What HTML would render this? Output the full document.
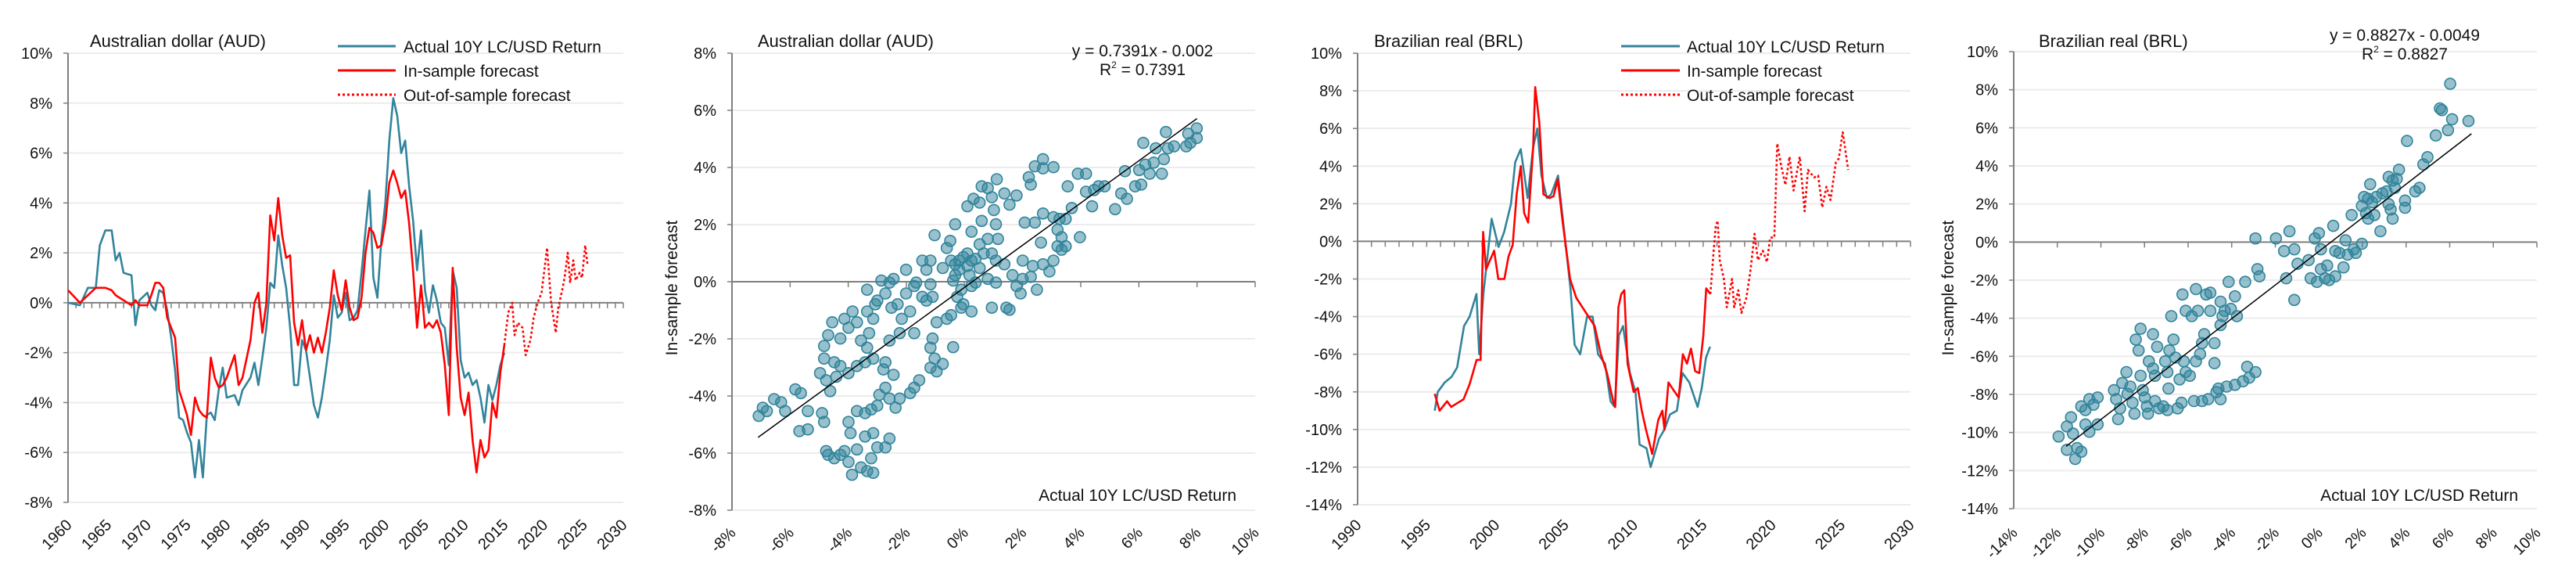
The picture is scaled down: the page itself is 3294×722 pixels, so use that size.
<!DOCTYPE html>
<html><head><meta charset="utf-8">
<style>
html,body{margin:0;padding:0;background:#fff;}
svg{display:block;font-family:"Liberation Sans Narrow","Liberation Sans",sans-serif;}
</style></head>
<body>
<svg id="chart" width="3294" height="722" viewBox="0 0 3294 722" xmlns="http://www.w3.org/2000/svg"></svg>
<script>
// ===== Panel 1: AUD time series =====
const audYears = [1960,1961.5,1962.5,1963.5,1964,1964.7,1965.5,1966,1966.5,1967,1968,1968.5,1969,1970,1970.5,1971,1971.5,1972,1972.5,1973,1973.5,1974,1974.5,1975,1975.5,1976,1976.5,1977,1977.5,1978,1978.5,1979,1979.5,1980,1981,1981.5,1982,1983,1983.5,1984,1984.5,1985,1985.5,1986,1986.5,1987,1987.5,1988,1988.5,1989,1989.5,1990,1990.5,1991,1991.5,1992,1992.5,1993,1993.5,1994,1994.5,1995,1995.5,1996,1996.5,1997,1997.5,1998,1998.5,1999,1999.5,2000,2000.5,2001,2001.5,2002,2002.5,2003,2003.5,2004,2004.5,2005,2005.5,2006,2006.5,2007,2007.5,2008,2008.5,2009,2009.5,2010,2010.5,2011,2011.5,2012,2012.5,2013,2013.5,2014,2014.5,2015];
const audActual = [0.0,-0.1,0.6,0.6,2.3,2.9,2.9,1.7,2.0,1.2,1.1,-0.9,0.1,0.4,-0.1,-0.3,0.5,0.4,-0.3,-1.4,-2.7,-4.6,-4.7,-5.2,-5.6,-7.0,-5.5,-7.0,-4.5,-4.4,-4.7,-3.5,-2.6,-3.8,-3.7,-4.1,-3.5,-3.0,-2.4,-3.3,-2.2,-1.0,0.8,0.6,2.7,1.5,0.6,-1.0,-3.3,-3.3,-1.5,-1.9,-3.0,-4.1,-4.6,-3.8,-2.7,-1.5,0.3,-0.6,-0.4,0.4,-0.7,-0.6,-0.3,1.2,2.9,4.5,1.0,0.2,2.5,4.0,6.5,8.2,7.5,6.0,6.5,4.7,3.3,1.3,2.9,0.5,-0.4,0.7,0.1,-0.8,-1.0,-2.5,1.3,0.6,-2.3,-3.0,-2.8,-3.3,-3.1,-3.8,-4.8,-3.3,-3.9,-3.3,-2.5,-2.0];
const audInSample = [0.5,0.0,0.3,0.6,0.6,0.6,0.5,0.3,0.2,0.1,-0.1,0.1,-0.1,-0.1,0.3,0.8,0.8,0.6,-0.6,-1.0,-1.4,-3.5,-4.0,-4.5,-5.3,-3.8,-4.3,-4.5,-4.6,-2.2,-3.0,-3.4,-3.3,-3.0,-2.1,-3.3,-3.0,-1.5,0.0,0.4,-1.2,0.0,3.5,2.5,4.2,2.7,1.8,1.9,-0.8,-1.7,-0.7,-1.9,-1.3,-2.0,-1.4,-2.0,-1.2,-0.2,1.3,0.3,-0.3,0.9,-0.2,-0.7,-0.6,0.2,2.0,3.0,2.8,2.2,2.3,3.2,4.8,5.3,4.8,4.2,4.5,3.2,1.3,-1.0,0.7,-1.0,-0.8,-1.0,-0.7,-1.2,-2.5,-4.5,1.4,-1.8,-3.8,-4.5,-3.6,-5.5,-6.8,-5.5,-6.2,-5.9,-4.0,-4.6,-2.8,-1.7];
const audOosYears = [2015,2015.5,2016,2016.3,2016.7,2017.3,2017.7,2018.3,2018.7,2019.2,2019.7,2020.4,2020.9,2021.5,2021.8,2022.3,2022.6,2023,2023.3,2023.7,2024,2024.5,2024.8,2025.2,2025.5];
const audOos = [-1.7,-0.4,0.0,-1.3,-0.8,-1.0,-2.1,-1.5,-0.6,0.0,0.4,2.2,0.0,-1.2,-0.2,0.5,1.0,2.0,0.8,1.7,0.9,1.2,1.0,2.3,1.5];
const audYTicks = [10,8,6,4,2,0,-2,-4,-6,-8];
const audXTicks = [1960,1965,1970,1975,1980,1985,1990,1995,2000,2005,2010,2015,2020,2025,2030];

// ===== Panel 2: AUD scatter =====
const audScatterX = [-7.08,-6.94,-6.8,-6.55,-6.31,-6.17,-5.82,-5.63,-5.68,-5.39,-5.39,-4.97,-4.9,-4.83,-4.76,-4.69,-4.48,-4.27,-4.13,-3.99,-3.87,-3.70,-3.56,-3.35,-3.14,-3.21,-3.0,-2.72,-2.58,-3.92,-3.42,-3.14,-3.99,-3.70,-3.42,-3.21,-3.0,-2.93,-2.72,-2.58,-2.37,-2.23,-1.87,-1.73,-1.56,-2.44,-2.72,-2.79,-3.14,-3.42,-3.70,-3.99,-4.27,-4.48,-4.41,-4.76,-4.62,-4.83,-4.83,-4.69,-4.55,-4.27,-4.13,-3.99,-3.85,-3.70,-3.56,-3.35,-3.28,-3.35,-3.14,-3.07,-3.35,-3.0,-2.86,-2.72,-2.58,-2.44,-2.51,-2.30,-2.16,-2.23,-2.58,-2.01,-2.01,-1.87,-1.73,-1.66,-1.45,-1.31,-1.17,-1.10,-1.31,-1.03,-1.10,-1.17,-1.03,-1.17,-0.96,-0.75,-0.96,-0.61,-0.39,-0.75,-0.61,-0.49,-0.32,-0.46,-0.32,-0.18,-0.11,-0.04,0.10,0.24,0.38,0.52,0.24,0.10,0.31,0.52,0.59,0.80,0.94,1.01,1.11,1.37,1.55,1.79,0.24,0.59,0.52,0.80,1.08,1.15,0.66,0.94,1.08,0.80,1.08,1.37,1.65,0.94,1.44,1.55,1.79,2.0,2.0,1.93,2.28,2.49,2.35,2.7,2.92,3.06,2.07,2.42,2.63,2.70,3.06,3.20,3.34,3.20,3.34,3.48,3.27,3.48,3.69,3.55,3.97,2.21,2.28,2.42,2.70,2.70,3.06,3.90,4.18,4.18,4.39,4.46,4.61,4.82,5.18,5.39,5.59,5.52,5.87,6.08,6.01,6.15,6.22,6.37,6.51,6.58,6.79,6.86,6.93,7.0,7.21,7.63,7.77,7.70,7.99,7.99,-0.32,-0.04,0.10,0.38,-0.18,0.17,-0.39,0.24,-0.25,-0.11,-0.46,-1.45,-1.73,-1.17];
const audScatterY = [-4.70,-4.41,-4.53,-4.11,-4.22,-4.53,-3.77,-3.9,-5.23,-5.17,-4.53,-3.2,-4.6,-4.91,-5.93,-6.06,-6.18,-6.06,-5.93,-6.31,-6.76,-5.87,-6.5,-6.63,-6.69,-6.18,-5.8,-5.8,-5.49,-5.3,-5.42,-5.3,-4.91,-4.53,-4.6,-4.47,-4.34,-3.96,-3.71,-4.09,-4.41,-4.09,-3.9,-3.71,-3.45,-3.26,-2.82,-3.07,-2.69,-2.82,-2.95,-3.2,-2.95,-2.82,-3.33,-3.45,-3.83,-2.69,-2.25,-1.87,-1.42,-1.99,-1.3,-1.61,-1.04,-1.42,-2.06,-1.04,-1.8,-2.31,-1.3,-0.79,-0.28,-0.66,0.04,-0.41,-0.03,0.1,-0.91,-0.79,-1.3,-1.8,-2.06,0.42,-0.41,-1.04,-1.8,-0.03,0.74,0.42,0.74,-0.53,-0.66,1.63,-1.99,-2.31,-2.69,-3.01,-3.14,-2.88,-1.42,-1.30,-2.29,0.48,1.18,1.43,2.01,0.74,0.23,0.74,-0.28,-0.79,0.99,-1.04,-0.03,0.48,0.74,2.64,2.9,2.77,3.34,3.28,2.96,2.51,3.59,3.09,2.7,3.02,1.75,2.13,1.31,1.5,2.01,1.5,0.99,0.99,0.74,0.1,-0.03,0.61,0.23,-0.91,-0.91,-0.98,-0.15,0.10,0.74,-0.41,0.17,-0.28,0.55,0.61,0.36,0.74,2.07,2.07,1.37,2.39,2.26,1.82,1.56,1.24,1.12,1.24,2.2,2.2,2.58,3.34,1.56,3.66,3.40,4.04,4.29,3.97,4.01,3.78,3.78,3.15,2.64,3.21,3.34,3.34,2.54,3.09,2.9,3.87,3.34,3.4,3.91,4.86,4.10,3.78,4.17,4.67,3.78,4.29,5.24,4.67,4.74,4.74,4.86,5.18,5.37,5.03,0.61,0.86,0.55,0.80,0.42,0.23,0.04,-0.15,-0.53,-0.91,-1.17,-0.53,-0.15,-0.09];
const audFitSlope = 0.7391;
const audFitIntercept = -0.2;
const audFitRange = [-7.1, 8.0];
const audSYTicks = [8,6,4,2,0,-2,-4,-6,-8];
const audSXTicks = [-8,-6,-4,-2,0,2,4,6,8,10];

// ===== Panel 3: BRL time series =====
const brlYears = [1995.58,1995.8,1996.3,1996.8,1997.2,1997.7,1998.1,1998.6,1998.8,1999.1,1999.7,2000.2,2000.6,2001.1,2001.4,2001.8,2002.3,2002.7,2003.0,2003.3,2003.7,2004.0,2004.5,2004.8,2005.4,2005.7,2006.1,2006.6,2007.0,2007.4,2007.9,2008.3,2008.6,2008.9,2009.2,2009.7,2010.1,2010.4,2010.9,2011.2,2011.8,2012.2,2012.6,2013.1,2013.5,2014.0,2014.6,2014.9,2015.2,2015.5];
const brlActual = [-9.0,-8.0,-7.5,-7.2,-6.7,-4.5,-4.0,-2.8,-6.0,-2.8,1.2,-0.3,0.5,2.0,4.2,4.9,2.3,5.0,6.0,3.5,2.3,2.5,3.5,1.5,-2.5,-5.5,-6.0,-4.0,-4.0,-6.0,-6.5,-8.5,-8.8,-5.0,-4.5,-7.0,-8.0,-10.8,-11.0,-12.0,-10.5,-10.0,-9.2,-9.0,-7.0,-7.5,-8.8,-7.8,-6.2,-5.6];
const brlInYears = [1995.58,1995.93,1996.47,1996.77,1997.21,1997.66,1998.10,1998.61,1998.90,1999.08,1999.29,1999.58,1999.88,2000.18,2000.62,2000.92,2001.22,2001.51,2001.81,2002.05,2002.34,2002.70,2002.85,2003.15,2003.44,2003.89,2004.18,2004.48,2004.84,2005.37,2005.82,2006.26,2006.71,2007.15,2007.60,2008.04,2008.49,2008.64,2008.87,2009.08,2009.29,2009.53,2009.97,2010.27,2010.56,2010.86,2011.31,2011.75,2012.05,2012.20,2012.49,2012.94,2013.23,2013.53,2013.83,2014.12,2014.42,2014.72,2015.01,2015.22,2015.52];
const brlInSample = [-8.1,-9.0,-8.5,-8.8,-8.6,-8.4,-7.6,-6.3,-6.3,0.5,-1.5,-1.0,-0.5,-2.0,-2.0,-0.8,-0.2,2.5,4.0,1.5,1.0,5.0,8.2,6.3,2.5,2.3,2.4,3.3,1.0,-2.0,-3.0,-3.5,-4.0,-4.5,-6.0,-7.0,-8.5,-8.8,-3.5,-2.8,-2.6,-6.5,-8.0,-7.8,-9.0,-10.0,-11.3,-9.5,-9.0,-10.0,-7.5,-8.0,-8.3,-6.0,-6.5,-5.7,-6.9,-7.0,-5.0,-2.5,-2.8];
const brlOosYears = [2015.52,2015.76,2015.91,2016.05,2016.20,2016.50,2016.71,2017.09,2017.24,2017.54,2017.77,2018.13,2018.43,2018.72,2018.96,2019.32,2019.61,2019.85,2020.15,2020.36,2020.65,2020.95,2021.25,2021.54,2021.99,2022.34,2022.58,2023.03,2023.32,2023.62,2023.92,2024.21,2024.60,2024.81,2025.10,2025.49];
const brlOos = [-2.8,-0.5,0.8,1.1,-1.0,-2.0,-3.5,-2.0,-3.5,-2.6,-3.8,-3.0,-1.5,0.4,-1.0,-0.5,-1.1,0.2,0.2,5.2,4.0,3.0,4.5,2.7,4.5,1.6,3.8,3.4,3.5,1.8,2.9,2.2,4.2,4.4,5.8,3.8];
const brlYTicks = [10,8,6,4,2,0,-2,-4,-6,-8,-10,-12,-14];
const brlXTicks = [1990,1995,2000,2005,2010,2015,2020,2025,2030];

// ===== Panel 4: BRL scatter =====
const brlScatterX = [-11.94,-11.56,-11.56,-11.37,-11.28,-11.18,-11.09,-10.90,-10.90,-10.71,-10.71,-10.53,-10.53,-10.34,-10.15,-10.15,-9.40,-9.30,-9.21,-9.12,-9.02,-8.83,-8.78,-8.65,-8.55,-8.46,-8.40,-8.27,-8.18,-8.18,-8.08,-7.99,-7.89,-7.84,-7.80,-7.61,-7.61,-7.52,-7.42,-7.52,-7.33,-7.14,-7.05,-6.95,-6.95,-6.90,-6.86,-6.77,-6.67,-6.58,-6.48,-6.39,-6.30,-6.26,-6.20,-6.11,-6.11,-5.92,-5.83,-5.73,-5.64,-5.64,-5.55,-5.45,-5.36,-5.36,-5.26,-5.17,-5.08,-4.98,-4.98,-4.79,-4.79,-4.70,-4.61,-4.51,-4.51,-4.42,-4.51,-4.32,-4.23,-4.14,-4.04,-3.85,-3.85,-3.76,-3.48,-3.38,-3.20,-3.29,-2.91,-2.91,-2.82,-2.73,-1.97,-1.60,-1.50,-1.35,-1.13,-1.13,-0.98,-0.47,-0.38,-0.19,-0.09,0,0.09,0.09,0.28,0.38,0.47,0.66,0.75,0.75,0.94,1.13,1.22,1.32,1.50,1.60,1.69,1.97,1.97,2.07,2.16,2.26,2.26,2.35,2.44,2.54,2.63,2.82,2.91,3.10,3.20,3.20,3.29,3.38,3.38,3.48,3.57,3.67,3.95,3.95,4.04,4.42,4.61,4.79,4.98,5.36,5.55,5.64,5.92,6.02,6.11,6.86];
const brlScatterY = [-10.21,-9.68,-10.91,-9.2,-10.06,-11.39,-10.82,-11.01,-8.63,-9.58,-8.82,-9.96,-8.25,-8.54,-8.16,-9.58,-7.78,-8.25,-9.30,-8.73,-7.40,-6.83,-7.97,-7.59,-8.44,-9.01,-5.12,-5.69,-4.55,-7.02,-7.78,-8.16,-8.63,-9.01,-6.26,-4.84,-6.64,-7.02,-5.5,-8.35,-8.73,-8.63,-6.26,-6.83,-8.82,-7.69,-5.69,-3.89,-5.12,-6.07,-8.73,-7.21,-8.44,-2.75,-6.26,-3.61,-6.83,-7.02,-3.89,-8.35,-6.26,-2.47,-3.61,-5.88,-5.31,-8.35,-4.84,-2.75,-8.25,-3.61,-2.66,-5.31,-6.36,-7.88,-7.69,-3.13,-4.36,-3.89,-8.25,-3.61,-7.59,-2.09,-3.51,-2.85,-7.50,-3.89,-7.31,-2.09,-7.12,-6.55,-6.83,0.19,-1.42,-1.80,0.19,-0.47,-1.90,0.57,-0.38,-3.04,-1.14,-0.95,-1.90,0.19,-2.09,0.47,-0.38,-1.42,-1.90,-1.23,-1.99,0.85,-1.80,-0.47,-0.57,-1.33,0.09,-0.66,1.42,-0.38,-0.57,-0.09,1.90,2.37,1.52,2.28,1.23,3.04,2.09,1.42,2.37,0.57,2.56,2.66,3.42,1.99,1.71,1.23,3.23,2.85,3.32,3.80,2.18,1.80,5.31,2.66,2.85,4.08,4.46,5.60,7.02,6.93,5.88,8.31,6.45,6.36];
const brlFitSlope = 0.8827;
const brlFitIntercept = -0.49;
const brlFitRange = [-11.6, 7.0];
const brlSYTicks = [10,8,6,4,2,0,-2,-4,-6,-8,-10,-12,-14];
const brlSXTicks = [-14,-12,-10,-8,-6,-4,-2,0,2,4,6,8,10];

// ===== rendering =====
const NS = "http://www.w3.org/2000/svg";
const svg = document.getElementById('chart');
const TEAL = "#31849b", RED = "#ff0000", AXIS = "#7f7f7f", GRID = "#ececec";

function mk(tag, attrs, parent) {
  const e = document.createElementNS(NS, tag);
  for (const k in attrs) e.setAttribute(k, attrs[k]);
  (parent || svg).appendChild(e);
  return e;
}
function txt(str, attrs, parent) {
  const t = mk('text', attrs, parent);
  t.textContent = str;
  return t;
}
function scale(d0, d1, r0, r1) { return v => r0 + (v - d0) / (d1 - d0) * (r1 - r0); }

function axes(g, c, yTicks, xTicks, fmtX, minorStep) {
  const sx = scale(c.xmin, c.xmax, c.x0, c.x1);
  const sy = scale(c.ymin, c.ymax, c.yb, c.yt);
  yTicks.forEach(v => {
    const y = sy(v);
    if (v !== 0) {
      const gl = mk('line', {x1: c.x0, x2: c.x1, y1: y, y2: y, stroke: GRID, 'stroke-width': 2}, g);
      
      
    }
    mk('line', {x1: c.x0 - 6, x2: c.x0, y1: y, y2: y, stroke: AXIS, 'stroke-width': 1.5}, g);
    const tl = txt(v + '%', {x: c.x0 - 20, y: y + 7, 'text-anchor': 'end', 'font-size': 20, fill: '#111'}, g);
    
    
  });
  const ya = mk('line', {x1: c.x0, x2: c.x0, y1: sy(c.ymax), y2: sy(c.ymin), stroke: AXIS, 'stroke-width': 2}, g);
  
  
  const y0 = sy(0);
  const xa = mk('line', {x1: c.x0, x2: c.x1, y1: y0, y2: y0, stroke: AXIS, 'stroke-width': 2}, g);
  
  
  for (let v = c.xmin + minorStep; v <= c.xmax + 1e-9; v += minorStep) {
    mk('line', {x1: sx(v), x2: sx(v), y1: y0, y2: y0 + 7, stroke: AXIS, 'stroke-width': 1.5}, g);
  }
  xTicks.forEach(v => {
    const x = sx(v), y = c.labelY;
    const t = txt(fmtX(v), {x: x + 6, y: y, 'text-anchor': 'end', 'font-size': 20, fill: '#111',
      transform: 'rotate(-45 ' + (x + 6) + ' ' + y + ')'}, g);
    
    
  });
  return {sx, sy};
}

function path(g, xs, ys, sx, sy, color, dash, name) {
  let d = '';
  xs.forEach((x, i) => { d += (i ? 'L' : 'M') + sx(x).toFixed(1) + ' ' + sy(ys[i]).toFixed(1); });
  const p = mk('path', {d: d, fill: 'none', stroke: color, 'stroke-width': 2.6, 'stroke-linejoin': 'round'}, g);
  if (dash) p.setAttribute('stroke-dasharray', '3 3');
  
  
}

function legend(g, x, x2, tx) {
  const rows = [['Actual 10Y LC/USD Return', TEAL, false, 'legend-actual'], ['In-sample forecast', RED, false, 'legend-in-sample'], ['Out-of-sample forecast', RED, true, 'legend-out-of-sample']];
  const ys = [59, 90, 121];
  rows.forEach((r, i) => {
    const lg = mk('g', {}, g);
    
    
    const l = mk('line', {x1: x, x2: x2, y1: ys[i], y2: ys[i], stroke: r[1], 'stroke-width': 3}, lg);
    if (r[2]) l.setAttribute('stroke-dasharray', '3 3');
    txt(r[0], {x: tx, y: ys[i] + 8, 'font-size': 21, fill: '#111'}, lg);
  });
}

function title(g, s, x) {
  const t = txt(s, {x: x, y: 60, 'font-size': 22, fill: '#111'}, g);
  
  
}

const pct = v => v + '%';
const yr = v => '' + v;

// Panel 1
(function(){
  const g = mk('g', {});
  
  
  const c = {x0: 87, x1: 797, xmin: 1960, xmax: 2030, yt: 68, yb: 642, ymin: -8, ymax: 10, labelY: 672};
  const {sx, sy} = axes(g, c, audYTicks, audXTicks, yr, 1);
  path(g, audYears, audActual, sx, sy, TEAL, false, 'aud-actual-line');
  path(g, audYears, audInSample, sx, sy, RED, false, 'aud-in-sample-line');
  path(g, audOosYears, audOos, sx, sy, RED, true, 'aud-out-of-sample-line');
  title(g, 'Australian dollar (AUD)', 115);
  legend(g, 432, 506, 516);
})();

function scatterPanel(name, c, xs, ys, yT, xT, slope, icpt, range, eq, r2, titleStr, titleX, eqX, eqY, ylabX) {
  const g = mk('g', {});
  
  
  const {sx, sy} = axes(g, c, yT, xT, pct, 2);
  xs.forEach((x, i) => {
    const p = mk('circle', {cx: sx(x).toFixed(1), cy: sy(ys[i]).toFixed(1), r: 7, fill: 'rgba(49,132,155,0.5)', stroke: TEAL, 'stroke-width': 1.6}, g);
    
    
  });
  const fl = mk('line', {x1: sx(range[0]), y1: sy(slope * range[0] + icpt), x2: sx(range[1]), y2: sy(slope * range[1] + icpt), stroke: '#000', 'stroke-width': 1.5}, g);
  
  
  title(g, titleStr, titleX);
  const e1 = txt(eq, {x: eqX, y: eqY, 'text-anchor': 'middle', 'font-size': 21, fill: '#111'}, g);
  
  
  const e2 = mk('text', {x: eqX, y: eqY + 24, 'text-anchor': 'middle', 'font-size': 21, fill: '#111'}, g);
  
  
  e2.appendChild(document.createTextNode('R'));
  const sup = mk('tspan', {'font-size': 12, dy: -9}, e2); sup.textContent = '2';
  const rest = mk('tspan', {dy: 9}, e2); rest.textContent = ' = ' + r2;
  const xl = txt('Actual 10Y LC/USD Return', {x: c.x1 - 24, y: 640, 'text-anchor': 'end', 'font-size': 21, fill: '#111'}, g);
  
  
  const yl = txt('In-sample forecast', {x: ylabX, y: 368, 'text-anchor': 'middle', 'font-size': 21, fill: '#111', transform: 'rotate(-90 ' + ylabX + ' 368)'}, g);
  
  
}

scatterPanel('aud-scatter-panel', {x0: 936, x1: 1605, xmin: -8, xmax: 10, yt: 68, yb: 652, ymin: -8, ymax: 8, labelY: 682},
  audScatterX, audScatterY, audSYTicks, audSXTicks, audFitSlope, audFitIntercept, audFitRange,
  'y = 0.7391x - 0.002', '0.7391', 'Australian dollar (AUD)', 969, 1461, 72, 866);

// Panel 3
(function(){
  const g = mk('g', {});
  
  
  const c = {x0: 1736, x1: 2443, xmin: 1990, xmax: 2030, yt: 68, yb: 645, ymin: -14, ymax: 10, labelY: 672};
  const {sx, sy} = axes(g, c, brlYTicks, brlXTicks, yr, 1);
  path(g, brlYears, brlActual, sx, sy, TEAL, false, 'brl-actual-line');
  path(g, brlInYears, brlInSample, sx, sy, RED, false, 'brl-in-sample-line');
  path(g, brlOosYears, brlOos, sx, sy, RED, true, 'brl-out-of-sample-line');
  title(g, 'Brazilian real (BRL)', 1757);
  legend(g, 2073, 2148, 2157);
})();

scatterPanel('brl-scatter-panel', {x0: 2575, x1: 3244, xmin: -14, xmax: 10, yt: 66, yb: 650, ymin: -14, ymax: 10, labelY: 682},
  brlScatterX, brlScatterY, brlSYTicks, brlSXTicks, brlFitSlope, brlFitIntercept, brlFitRange,
  'y = 0.8827x - 0.0049', '0.8827', 'Brazilian real (BRL)', 2607, 3075, 52, 2498);
</script>
</body></html>
